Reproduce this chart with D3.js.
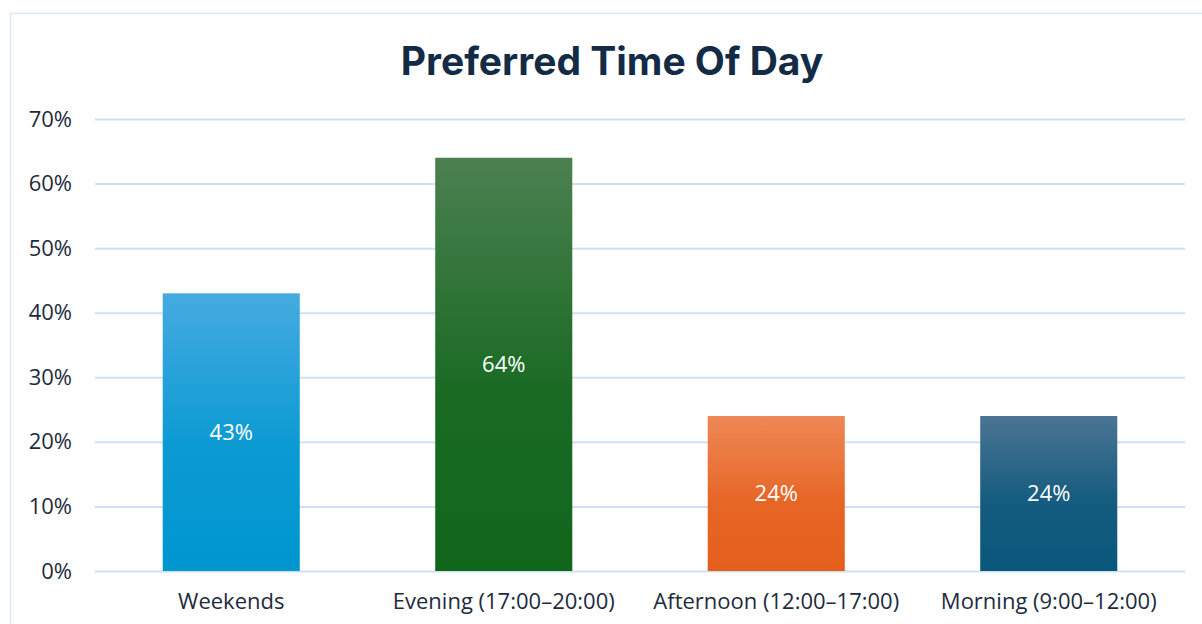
<!DOCTYPE html>
<html>
<head>
<meta charset="utf-8">
<script src="https://cdn.jsdelivr.net/npm/d3@7"></script>
<style>
  html, body { margin: 0; padding: 0; background: #ffffff; }
  svg { display: block; }
</style>
</head>
<body>
<svg id="chart" width="1202" height="624"></svg>
<script>
// Survey results: share of respondents preferring each time slot
const categories = ["Weekends", "Evening (17:00–20:00)", "Afternoon (12:00–17:00)", "Morning (9:00–12:00)"];
const values = [43, 64, 24, 24];
const yTicks = [0, 10, 20, 30, 40, 50, 60, 70];
const titleText = "Preferred Time Of Day";

// Top / bottom gradient stops for each bar
const gradTop = ["#45abe0", "#4c8051", "#ee8856", "#4b7493"];
const gradBottom = ["#0096d0", "#10661b", "#e55f1c", "#09577b"];

const W = 1202, H = 624;
const margin = { left: 95, right: 17, top: 119, bottom: 53 };
const labelFont = "'Open Sans', sans-serif";
const labelSize = "22px";

const svg = d3.select("#chart");

// Chart frame
svg.append("rect")
  .attr("x", 10.5).attr("y", 13.5)
  .attr("width", W + 20).attr("height", H + 20)
  .attr("fill", "#ffffff")
  .attr("stroke", "#dbe8f5").attr("stroke-width", 1.5);

const x = d3.scaleBand()
  .domain(categories)
  .range([margin.left, W - margin.right])
  .paddingInner(0.497).paddingOuter(0.2485);

const y = d3.scaleLinear()
  .domain([0, 70])
  .range([H - margin.bottom, margin.top]);

// Gradients
const defs = svg.append("defs");
categories.forEach((c, i) => {
  const g = defs.append("linearGradient")
    .attr("id", "grad" + i)
    .attr("x1", 0).attr("y1", 0).attr("x2", 0).attr("y2", 1);
  g.append("stop").attr("offset", "0%").attr("stop-color", gradTop[i]);
  g.append("stop").attr("offset", "55%").attr("stop-color", d3.interpolateRgb(gradTop[i], gradBottom[i])(0.82));
  g.append("stop").attr("offset", "100%").attr("stop-color", gradBottom[i]);
});

// Gridlines + y labels
const yAxis = d3.axisLeft(y)
  .tickValues(yTicks)
  .tickSize(-(W - margin.right - margin.left))
  .tickPadding(23)
  .tickFormat(d => d + "%");

const gy = svg.append("g")
  .attr("transform", `translate(${margin.left},0)`)
  .call(yAxis);
gy.select(".domain").remove();
gy.selectAll(".tick line")
  .attr("stroke", "#d0e0f2").attr("stroke-width", 2);
gy.selectAll(".tick text")
  .attr("fill", "#1d2b3d")
  .style("font-family", labelFont)
  .style("font-size", labelSize);

// Bars
svg.append("g").selectAll("rect")
  .data(values)
  .join("rect")
  .attr("x", (d, i) => x(categories[i]))
  .attr("width", x.bandwidth())
  .attr("y", d => y(d))
  .attr("height", d => y(0) - y(d))
  .attr("fill", (d, i) => `url(#grad${i})`);

// Value labels centred in bars
svg.append("g").selectAll("text")
  .data(values)
  .join("text")
  .attr("x", (d, i) => x(categories[i]) + x.bandwidth() / 2)
  .attr("y", d => (y(d) + y(0)) / 2)
  .attr("dy", "0.35em")
  .attr("text-anchor", "middle")
  .attr("fill", "#ffffff")
  .style("font-family", labelFont)
  .style("font-size", labelSize)
  .text(d => d + "%");

// Category labels
const xAxis = d3.axisBottom(x).tickSize(0).tickPadding(22);
const gx = svg.append("g")
  .attr("transform", `translate(0,${y(0)})`)
  .call(xAxis);
gx.select(".domain").remove();
gx.selectAll(".tick text")
  .attr("fill", "#1d2b3d")
  .style("font-family", labelFont)
  .style("font-size", labelSize);

// Title
svg.append("text")
  .attr("x", 612).attr("y", 75)
  .attr("text-anchor", "middle")
  .attr("fill", "#132b45")
  .style("font-family", "Inter, sans-serif")
  .style("font-weight", "700")
  .style("font-size", "39px")
  .text(titleText);
</script>
</body>
</html>
